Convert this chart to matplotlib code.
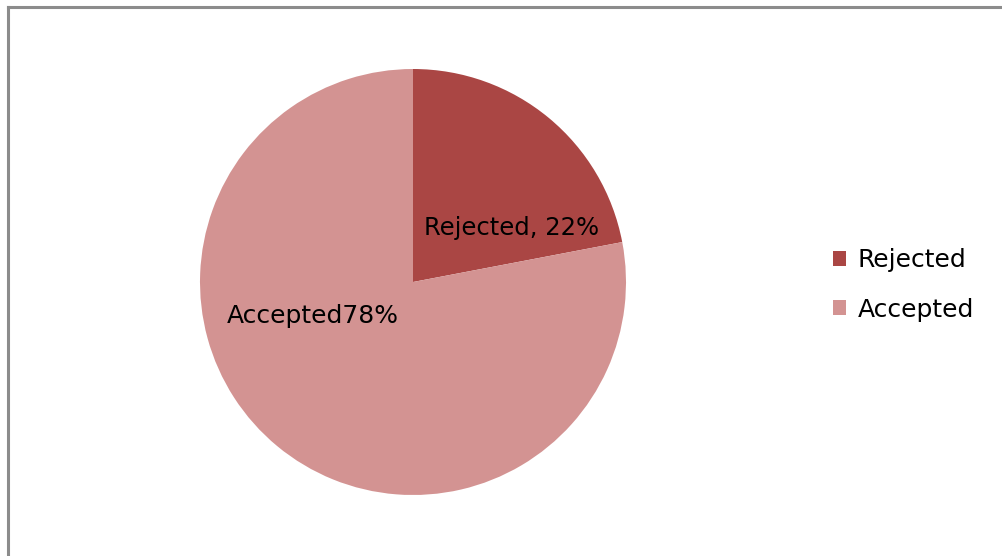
import matplotlib
matplotlib.use("Agg")
import matplotlib.pyplot as plt
from matplotlib.lines import Line2D
from matplotlib.patches import Patch

categories = ["Rejected", "Accepted"]
shares = [22, 78]
label_texts = ["Rejected, 22%", "Accepted78%"]
colors = ["#AA4644", "#D39392"]

plt.rcParams["font.family"] = ["DejaVu Sans"]

W, H = 1002, 556
fig = plt.figure(figsize=(W / 100, H / 100), dpi=100)
fig.patch.set_facecolor("white")

# pie area in pixel terms: centre (413, 282), radius 213
cx, cy, r = 413, 282, 213
ax = fig.add_axes([(cx - r) / W, (H - cy - r) / H, 2 * r / W, 2 * r / H])
ax.pie(shares, colors=colors, startangle=90, counterclock=False,
       radius=1.0, wedgeprops=dict(linewidth=0))
ax.set_xlim(-1, 1)
ax.set_ylim(-1, 1)
ax.set_aspect("equal")
ax.axis("off")

# data labels inside the slices
label_pos = [(0.463, 0.255), (-0.47, -0.16)]
label_sizes = [17.5, 18]
for (x, y), t, s in zip(label_pos, label_texts, label_sizes):
    ax.text(x, y, t, ha="center", va="center", fontsize=s, color="black")

handles = [Patch(facecolor=c, edgecolor="none") for c in colors]
fig.legend(handles, categories, loc="center left",
           bbox_to_anchor=(833 / W, 1 - 285 / H), frameon=False,
           fontsize=18, handlelength=0.52, handleheight=0.52,
           handletextpad=0.48, labelspacing=1.0, borderaxespad=0,
           borderpad=0)

# chart area border (left and top edges visible)
border = dict(color="#8C8C8C", linewidth=2.2, transform=fig.transFigure)
fig.add_artist(Line2D([7.5 / W, 7.5 / W], [0, 1 - 6.5 / H], **border))
fig.add_artist(Line2D([7.5 / W, 1], [1 - 6.5 / H, 1 - 6.5 / H], **border))

fig.savefig("out.png", dpi=100, facecolor="white")
